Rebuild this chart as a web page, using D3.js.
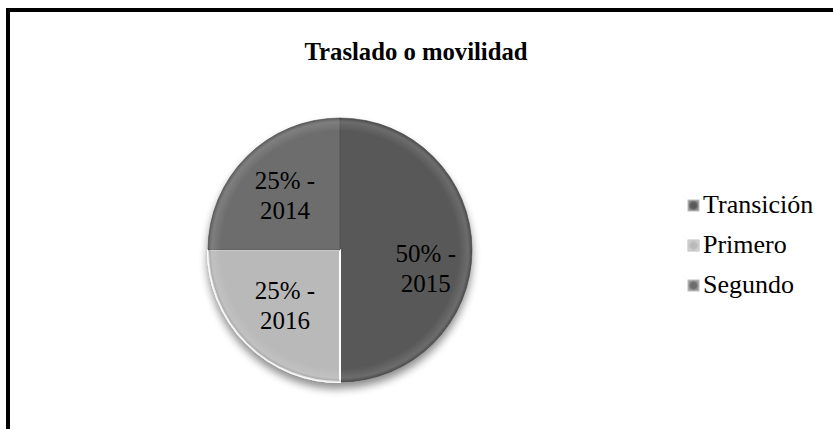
<!DOCTYPE html>
<html>
<head>
<meta charset="utf-8">
<script src="https://cdn.jsdelivr.net/npm/d3@7"></script>
<style>
body { margin: 0; background: #fff; }
svg { display: block; }
</style>
</head>
<body>
<script>
var categories = ["Transición", "Primero", "Segundo"];
var values = [50, 25, 25];
var years = ["2015", "2016", "2014"];
var colors = ["#595959", "#b9b9b9", "#6d6d6d"];

var w = 833, h = 429;
var cx = 340, cy = 250, r = 132;
var serif = "'Liberation Serif'";

var svg = d3.select("body")
    .append("svg")
    .attr("width", w)
    .attr("height", h);

var defs = svg.append("defs");

// soft shadow under the pie
var shadow = defs.append("filter")
    .attr("id", "shadow")
    .attr("x", "-20%").attr("y", "-20%")
    .attr("width", "140%").attr("height", "150%");
shadow.append("feGaussianBlur").attr("in", "SourceAlpha").attr("stdDeviation", 4);
shadow.append("feOffset").attr("dy", 6).attr("result", "blur");
shadow.append("feComponentTransfer").append("feFuncA").attr("type", "linear").attr("slope", 0.45);
var merge = shadow.append("feMerge");
merge.append("feMergeNode");
merge.append("feMergeNode").attr("in", "SourceGraphic");

// bevel: lighter rim toward the edge
var bevel = defs.append("radialGradient")
    .attr("id", "bevel")
    .attr("gradientUnits", "userSpaceOnUse")
    .attr("cx", cx).attr("cy", cy).attr("r", r);
bevel.append("stop").attr("offset", "0.9").attr("stop-color", "#fff").attr("stop-opacity", 0);
bevel.append("stop").attr("offset", "0.97").attr("stop-color", "#fff").attr("stop-opacity", 0.12);
bevel.append("stop").attr("offset", "1").attr("stop-color", "#000").attr("stop-opacity", 0.15);

// legend key bevel
var keyGrad = defs.append("radialGradient").attr("id", "keybevel");
keyGrad.append("stop").attr("offset", "0.5").attr("stop-color", "#fff").attr("stop-opacity", 0);
keyGrad.append("stop").attr("offset", "1").attr("stop-color", "#fff").attr("stop-opacity", 0.35);

// frame
svg.append("rect")
    .attr("x", 8)
    .attr("y", 10)
    .attr("width", w + 20)
    .attr("height", h + 20)
    .attr("fill", "none")
    .attr("stroke", "#000")
    .attr("stroke-width", 4);

// title
svg.append("text")
    .attr("x", 416)
    .attr("y", 60)
    .attr("text-anchor", "middle")
    .attr("textLength", 223)
    .attr("lengthAdjust", "spacingAndGlyphs")
    .style("font-family", serif)
    .style("font-size", "25px")
    .style("font-weight", "bold")
    .text("Traslado o movilidad");

var pie = d3.pie().sort(null).value(function (d) { return d; });
var arcs = pie(values);
var arc = d3.arc().innerRadius(0).outerRadius(r);

var g = svg.append("g")
    .attr("transform", "translate(" + cx + "," + cy + ")");

var slices = g.append("g").attr("filter", "url(#shadow)");

slices.selectAll("path")
    .data(arcs)
    .enter()
    .append("path")
    .attr("d", arc)
    .attr("fill", function (d, i) { return colors[i]; })
    .attr("stroke", function (d, i) { return i === 1 ? "#fff" : "#4a4a4a"; })
    .attr("stroke-width", function (d, i) { return i === 1 ? 2 : 0.6; });

g.append("circle")
    .attr("r", r)
    .attr("fill", "url(#bevel)")
    .attr("transform", "translate(" + (-cx) + "," + (-cy) + ")")
    .attr("cx", cx)
    .attr("cy", cy);

// data labels
var labelArc = d3.arc().innerRadius(r * 0.59).outerRadius(r * 0.59);

var labels = g.selectAll("text.lbl")
    .data(arcs)
    .enter()
    .append("text")
    .attr("class", "lbl")
    .attr("text-anchor", "middle")
    .style("font-family", serif)
    .style("font-size", "25px")
    .attr("transform", function (d) {
        var c = labelArc.centroid(d);
        if (d.index === 0) c = [r * 0.65, 18];
        return "translate(" + c[0] + "," + c[1] + ")";
    });

labels.append("tspan")
    .attr("x", 0)
    .attr("dy", -6)
    .text(function (d) { return d.value + "% -"; });

labels.append("tspan")
    .attr("x", 0)
    .attr("dy", 30)
    .text(function (d, i) { return years[i]; });

// legend
var legend = svg.selectAll("g.legend")
    .data(categories)
    .enter()
    .append("g")
    .attr("class", "legend")
    .attr("transform", function (d, i) {
        return "translate(688," + (213 + i * 40) + ")";
    });

legend.append("rect")
    .attr("x", 0)
    .attr("y", -13)
    .attr("width", 11)
    .attr("height", 11)
    .attr("fill", function (d, i) { return colors[i]; })
    .attr("stroke", "#aaa")
    .attr("stroke-width", 0.8);

legend.append("rect")
    .attr("x", 0)
    .attr("y", -13)
    .attr("width", 11)
    .attr("height", 11)
    .attr("fill", "url(#keybevel)");

legend.append("text")
    .attr("x", 15)
    .attr("y", 0)
    .style("font-family", serif)
    .style("font-size", "26px")
    .text(function (d) { return d; });
</script>
</body>
</html>
